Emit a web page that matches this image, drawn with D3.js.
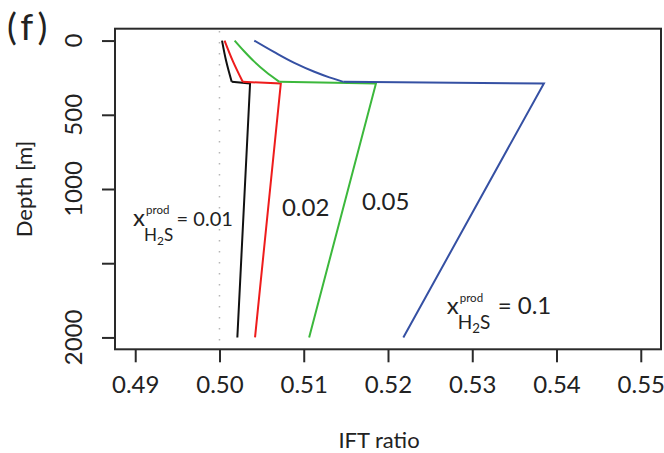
<!DOCTYPE html>
<html>
<head>
<meta charset="utf-8">
<script src="https://cdn.jsdelivr.net/npm/d3@7"></script>
<style>
   body { margin: 0; background: #fff; }
   text { font-family: Lato, 'Liberation Sans', sans-serif; fill: #222; }
</style>
</head>
<body>
<div id="chart"></div>
<script>
// depth ticks (m) and x ticks
const depthTicks = [0, 500, 1000, 1500, 2000];
const depthTickLabels = ['0', '500', '1000', '', '2000'];
const ratioTicks = [0.49, 0.5, 0.51, 0.52, 0.53, 0.54, 0.55];
const ratioTickLabels = ['0.49', '0.50', '0.51', '0.52', '0.53', '0.54', '0.55'];

// IFT ratio profiles for x_H2S^prod = 0.01, 0.02, 0.05, 0.1
// upper zone (0 - 278 m) and lower zone (278 - 2000 m)
const upperDepth001 = [0, 140, 278];
const upperRatio001 = [0.5003, 0.5008, 0.50145];
const lowerDepth001 = [278, 289, 2000];
const lowerRatio001 = [0.50145, 0.50363, 0.50212];

const upperDepth002 = [0, 140, 278];
const upperRatio002 = [0.5006, 0.5016, 0.50276];
const lowerDepth002 = [278, 289, 2000];
const lowerRatio002 = [0.50276, 0.50728, 0.50422];

const upperDepth005 = [0, 70, 140, 210, 278];
const upperRatio005 = [0.5018, 0.5029, 0.5041, 0.5055, 0.50711];
const lowerDepth005 = [278, 289, 2000];
const lowerRatio005 = [0.50711, 0.51857, 0.51064];

const upperDepth01 = [0, 78, 150, 210, 248, 278];
const upperRatio01 = [0.50413, 0.50651, 0.50888, 0.51126, 0.51304, 0.5147];
const lowerDepth01 = [278, 289, 2000];
const lowerRatio01 = [0.5147, 0.5385, 0.52182];

const seriesColors = ['#111111', '#ee1c1c', '#3cb83c', '#3550a3'];

// annotation anchors (data coordinates)
const labelRatios = [0.48975, 0.50741, 0.51691, 0.52697];
const labelDepths = [1251, 1184, 1139, 1845];
const labelValues = ['0.01', '0.02', '0.05', '0.1'];
const labelFull = [true, false, false, true];

const width = 664, height = 453;
const box = { left: 115, right: 661, top: 28.7, bottom: 349.3 };

const svg = d3.select('#chart')
   .append('svg')
   .attr('width', width)
   .attr('height', height);

const x = d3.scaleLinear().domain([0.4876, 0.5524]).range([box.left, box.right]);
const y = d3.scaleLinear().domain([-80, 2080]).range([box.top, box.bottom]);

// reference line at 0.5
svg.append('line')
   .attr('x1', x(0.5)).attr('x2', x(0.5))
   .attr('y1', 31).attr('y2', box.bottom)
   .attr('stroke', '#b5b5b5')
   .attr('stroke-width', 1.5)
   .attr('stroke-dasharray', '1.5 9.5');

const series = [
   { up: [upperDepth001, upperRatio001], low: [lowerDepth001, lowerRatio001] },
   { up: [upperDepth002, upperRatio002], low: [lowerDepth002, lowerRatio002] },
   { up: [upperDepth005, upperRatio005], low: [lowerDepth005, lowerRatio005] },
   { up: [upperDepth01, upperRatio01], low: [lowerDepth01, lowerRatio01] },
];

const pts = (pair) => pair[0].map((dep, i) => [dep, pair[1][i]]);

const upperLine = d3.line()
   .x((d) => x(d[1]))
   .y((d) => y(d[0]))
   .curve(d3.curveMonotoneY);

const lowerLine = d3.line()
   .x((d) => x(d[1]))
   .y((d) => y(d[0]));

const curves = svg.append('g').attr('class', 'data-group');
series.forEach((s, i) => {
   curves.append('path')
      .attr('fill', 'none')
      .attr('stroke', seriesColors[i])
      .attr('stroke-width', 2)
      .attr('d', upperLine(pts(s.up)));
   curves.append('path')
      .attr('fill', 'none')
      .attr('stroke', seriesColors[i])
      .attr('stroke-width', 2)
      .attr('d', lowerLine(pts(s.low)));
});

// box
svg.append('rect')
   .attr('x', box.left).attr('y', box.top)
   .attr('width', box.right - box.left)
   .attr('height', box.bottom - box.top)
   .attr('fill', 'none')
   .attr('stroke', '#2a2a2a')
   .attr('stroke-width', 2);

// axes
const xAxis = d3.axisBottom(x)
   .tickValues(ratioTicks)
   .tickSize(13)
   .tickPadding(14)
   .tickFormat((d, i) => ratioTickLabels[i]);

const xAxisG = svg.append('g')
   .attr('transform', `translate(0,${box.bottom})`)
   .call(xAxis);
xAxisG.select('.domain').remove();
xAxisG.selectAll('line').attr('stroke', '#2a2a2a').attr('stroke-width', 2);
xAxisG.selectAll('text')
   .attr('font-size', 24)
   .style('font-family', 'Lato, sans-serif')
   .attr('fill', '#222');

const yAxis = d3.axisLeft(y)
   .tickValues(depthTicks)
   .tickSize(13)
   .tickFormat('');

const yAxisG = svg.append('g')
   .attr('transform', `translate(${box.left},0)`)
   .call(yAxis);
yAxisG.select('.domain').remove();
yAxisG.selectAll('line').attr('stroke', '#2a2a2a').attr('stroke-width', 2);

// rotated depth labels, parallel to the axis
svg.append('g')
   .selectAll('text')
   .data(depthTicks)
   .join('text')
   .attr('x', 82)
   .attr('y', (d) => y(d))
   .attr('text-anchor', 'middle')
   .attr('font-size', 24)
   .attr('transform', (d) => `rotate(-90,82,${y(d)})`)
   .text((d, i) => depthTickLabels[i]);

// axis titles
svg.append('text')
   .attr('x', 379).attr('y', 448)
   .attr('text-anchor', 'middle')
   .attr('font-size', 22)
   .text('IFT ratio');

svg.append('text')
   .attr('transform', `translate(32,${(box.top + box.bottom) / 2}) rotate(-90)`)
   .attr('text-anchor', 'middle')
   .attr('font-size', 22)
   .text('Depth [m]');

// panel letter
svg.append('text')
   .attr('x', 7).attr('y', 40)
   .attr('font-size', 37)
   .attr('letter-spacing', 4)
   .text('(f)');

// curve labels
const eqOffset = [43.5, 0, 0, 51];
const valueSize = [20, 24, 24, 24];
const subSize = [17, 0, 0, 19];
labelValues.forEach((val, i) => {
   const lx = x(labelRatios[i]);
   const ly = y(labelDepths[i]);
   const g = svg.append('g').attr('class', 'curve-label');
   if (!labelFull[i]) {
      g.append('text').attr('x', lx).attr('y', ly).attr('font-size', valueSize[i]).text(val);
      return;
   }
   g.append('text').attr('x', lx).attr('y', ly).attr('font-size', 24).text('x');
   g.append('text')
      .attr('x', lx + 13).attr('y', ly - 12)
      .attr('font-size', 11.5)
      .text('prod');
   const sub = g.append('text')
      .attr('x', lx + 11).attr('y', ly + 15)
      .attr('font-size', subSize[i]);
   sub.append('tspan').text('H');
   sub.append('tspan').attr('font-size', subSize[i] * 0.7).attr('dy', 4).text('2');
   sub.append('tspan').attr('dy', -4).text('S');
   g.append('text')
      .attr('x', lx + eqOffset[i]).attr('y', ly)
      .attr('font-size', valueSize[i])
      .text('= ' + val);
});
</script>
</body>
</html>
